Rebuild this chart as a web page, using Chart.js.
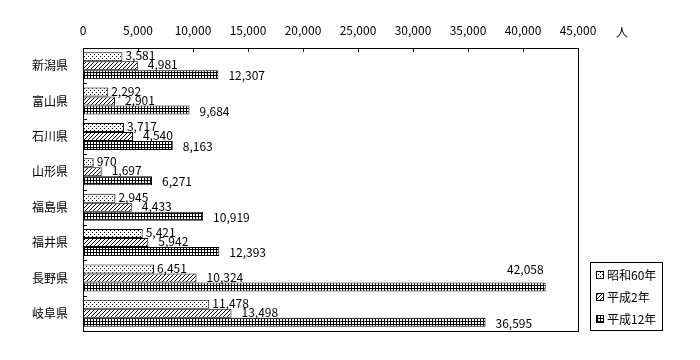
<!DOCTYPE html>
<html>
<head>
<meta charset="utf-8">
<script src="https://cdn.jsdelivr.net/npm/chart.js@4"></script>
<style>
  html, body { margin: 0; padding: 0; background: #fff; }
  #wrap { position: relative; width: 700px; height: 360px; }
</style>
</head>
<body>
<div id="wrap"><canvas id="chart"></canvas></div>
<script>
// ==================== DATA ====================
const prefectures = ['新潟県', '富山県', '石川県', '山形県', '福島県', '福井県', '長野県', '岐阜県'];
const seriesNames = ['昭和60年', '平成2年', '平成12年'];
const showa60 = [3581, 2292, 3717, 970, 2945, 5421, 6451, 11478];
const heisei2 = [4981, 2901, 4540, 1697, 4433, 5942, 10324, 13498];
const heisei12 = [12307, 9684, 8163, 6271, 10919, 12393, 42058, 36595];
const axisMax = 45000;
const axisStep = 5000;
const unitLabel = '人';

const FONT = '"Noto Sans CJK JP", "Noto Sans", sans-serif';

// ==================== PATTERNS ====================
function makePattern(size, pixels) {
    const c = document.createElement('canvas');
    c.width = size; c.height = size;
    const g = c.getContext('2d');
    g.fillStyle = '#fff';
    g.fillRect(0, 0, size, size);
    g.fillStyle = '#000';
    pixels.forEach(p => g.fillRect(p[0], p[1], 1, 1));
    return g.createPattern(c, 'repeat');
}

const dotPattern = makePattern(4, [[0, 0], [2, 2]]);
const hatchPattern = makePattern(4, [[3, 0], [2, 1], [1, 2], [0, 3]]);
const gridPixels = [];
for (let i = 0; i < 3; i++) { gridPixels.push([i, 0]); gridPixels.push([0, i]); }
const gridPattern = makePattern(3, gridPixels);

const fills = [dotPattern, hatchPattern, gridPattern];
const values = [showa60, heisei2, heisei12];

// label gap after the bar end, per series (px)
const labelGap = [3, 10, 10];

// ==================== PLUGINS ====================
const framePlugin = {
    id: 'frame',
    afterDraw(chart) {
        const ctx = chart.ctx;
        const a = chart.chartArea;
        const xs = chart.scales.x;
        ctx.save();
        ctx.strokeStyle = '#000';
        ctx.lineWidth = 1;
        ctx.strokeRect(Math.round(a.left) + 0.5, Math.round(a.top) + 0.5,
            Math.round(a.right - a.left), Math.round(a.bottom - a.top));

        // inward ticks on the top axis
        ctx.beginPath();
        xs.ticks.forEach(t => {
            const x = Math.round(xs.getPixelForValue(t.value)) + 0.5;
            ctx.moveTo(x, a.top);
            ctx.lineTo(x, a.top + 4);
        });
        // inward ticks between categories
        const band = (a.bottom - a.top) / prefectures.length;
        for (let i = 1; i < prefectures.length; i++) {
            const y = Math.round(a.top + band * i) + 0.5;
            ctx.moveTo(a.left, y);
            ctx.lineTo(a.left + 4, y);
        }
        ctx.stroke();

        // unit label
        ctx.fillStyle = '#000';
        ctx.font = '12px ' + FONT;
        ctx.textAlign = 'left';
        ctx.textBaseline = 'middle';
        ctx.fillText(unitLabel, 616, 32);
        ctx.restore();
    }
};

const valueLabelPlugin = {
    id: 'valueLabels',
    afterDatasetsDraw(chart) {
        const ctx = chart.ctx;
        const a = chart.chartArea;
        ctx.save();
        ctx.fillStyle = '#000';
        ctx.font = '12px ' + FONT;
        ctx.textBaseline = 'middle';
        chart.data.datasets.forEach((ds, i) => {
            chart.getDatasetMeta(i).data.forEach((bar, j) => {
                const text = ds.data[j].toLocaleString('en-US');
                const w = ctx.measureText(text).width;
                const gap = labelGap[i];
                if (bar.x + gap + w > a.right) {
                    ctx.textAlign = 'right';
                    ctx.fillText(text, bar.x - 2, bar.y - bar.height * 2);
                } else {
                    ctx.textAlign = 'left';
                    ctx.fillText(text, bar.x + gap, bar.y + (i === 2 ? 1 : -1));
                }
            });
        });
        ctx.restore();
    }
};

const legendBoxPlugin = {
    id: 'legendBox',
    afterDraw(chart) {
        const ctx = chart.ctx;
        const left = 590, top = 262, width = 72, height = 68;
        ctx.save();
        ctx.strokeStyle = '#000';
        ctx.lineWidth = 1;
        ctx.fillStyle = '#fff';
        ctx.fillRect(left, top, width, height);
        ctx.strokeRect(left + 0.5, top + 0.5, width, height);
        ctx.font = '12px ' + FONT;
        ctx.textAlign = 'left';
        ctx.textBaseline = 'middle';
        chart.data.datasets.forEach((ds, i) => {
            const cy = top + 13 + i * 22;
            ctx.fillStyle = ds.backgroundColor;
            ctx.fillRect(left + 6, cy - 4, 8, 8);
            ctx.strokeRect(left + 6.5, cy - 3.5, 7, 7);
            ctx.fillStyle = '#000';
            ctx.fillText(ds.label, left + 17, cy);
        });
        ctx.restore();
    }
};

// ==================== CHART ====================
new Chart(document.getElementById('chart'), {
    type: 'bar',
    data: {
        labels: prefectures,
        datasets: seriesNames.map((name, i) => ({
            label: name,
            data: values[i],
            backgroundColor: fills[i],
            borderColor: '#000',
            borderWidth: 1,
            borderSkipped: false,
            barPercentage: 1.0,
            categoryPercentage: 0.76
        }))
    },
    options: {
        indexAxis: 'y',
        responsive: true,
        maintainAspectRatio: false,
        animation: false,
        layout: { padding: { top: 0, left: 0, right: 122, bottom: 29 } },
        scales: {
            x: {
                position: 'top',
                min: 0,
                max: axisMax,
                afterFit: scale => { scale.height = 48; },
                ticks: {
                    stepSize: axisStep,
                    color: '#000',
                    padding: 10,
                    font: { family: FONT, size: 12 },
                    callback: v => v.toLocaleString('en-US')
                },
                grid: { display: false, drawTicks: false },
                border: { display: false }
            },
            y: {
                afterFit: scale => { scale.width = 83; },
                ticks: {
                    color: '#000',
                    padding: 15,
                    font: { family: FONT, size: 12 }
                },
                grid: { display: false, drawTicks: false },
                border: { display: false }
            }
        },
        plugins: {
            legend: { display: false },
            tooltip: { enabled: false }
        }
    },
    plugins: [framePlugin, valueLabelPlugin, legendBoxPlugin]
});
</script>
</body>
</html>
